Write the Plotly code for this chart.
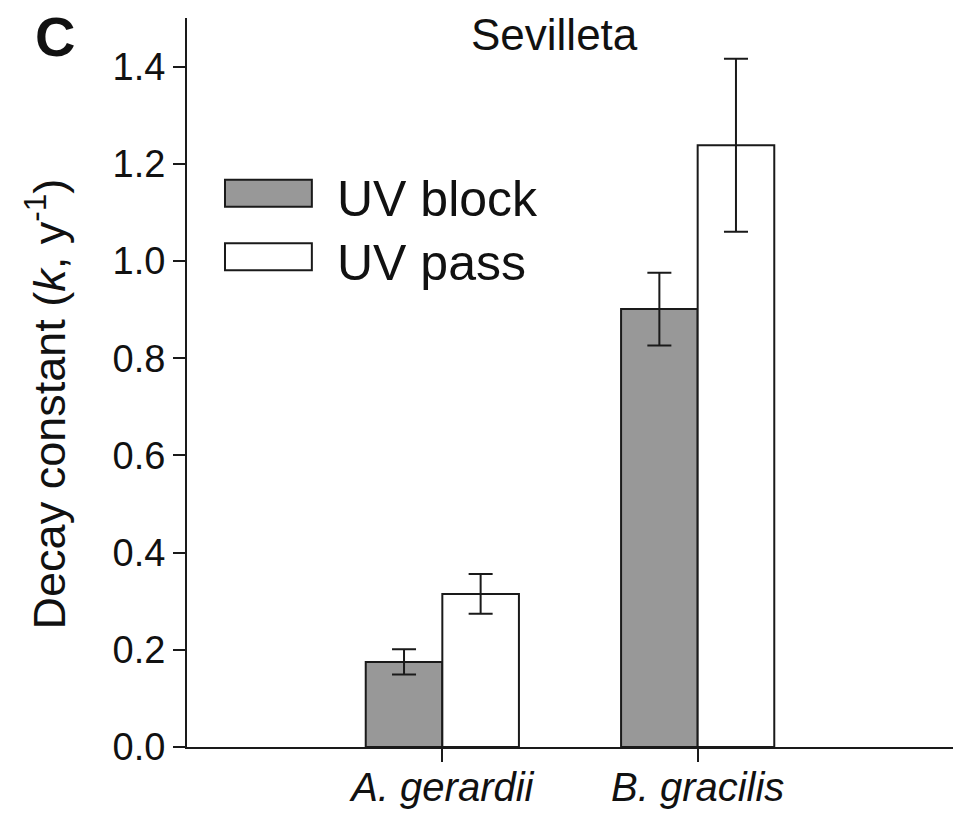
import plotly.graph_objects as go

# data
species = ["A. gerardii", "B. gracilis"]
uv_block = [0.175, 0.901]
uv_block_err = [0.026, 0.075]
uv_pass = [0.315, 1.238]
uv_pass_err = [0.041, 0.178]
y_ticks = [0.0, 0.2, 0.4, 0.6, 0.8, 1.0, 1.2, 1.4]

FONT = "Liberation Sans, Arial, Helvetica, sans-serif"
GRAY = "#989898"

fig = go.Figure()
fig.add_trace(
    go.Bar(
        x=species,
        y=uv_block,
        name="UV block",
        marker=dict(color=GRAY, line=dict(color="#1a1a1a", width=2)),
        error_y=dict(type="data", array=uv_block_err, color="#1a1a1a", thickness=2, width=12),
    )
)
fig.add_trace(
    go.Bar(
        x=species,
        y=uv_pass,
        name="UV pass",
        marker=dict(color="white", line=dict(color="#1a1a1a", width=2)),
        error_y=dict(type="data", array=uv_pass_err, color="#1a1a1a", thickness=2, width=12),
    )
)

fig.update_xaxes(
    range=[-1, 2],
    automargin=False,
    showline=True,
    linecolor="#1a1a1a",
    linewidth=2,
    ticks="outside",
    ticklen=13,
    tickwidth=2,
    tickcolor="#1a1a1a",
    ticklabelstandoff=-9,
    tickfont=dict(family=FONT, size=40, color="#111111", style="italic"),
    showgrid=False,
    zeroline=False,
)
fig.update_yaxes(
    range=[0, 1.5],
    automargin=False,
    tickvals=y_ticks,
    tickformat=".1f",
    showline=True,
    linecolor="#1a1a1a",
    linewidth=2,
    ticks="outside",
    ticklen=12,
    tickwidth=2,
    tickcolor="#1a1a1a",
    tickfont=dict(family=FONT, size=38, color="#111111"),
    showgrid=False,
    zeroline=False,
)

# hand-drawn legend, sized like the original
legend_items = [("UV block", GRAY, 0.778, 0.741), ("UV pass", "white", 0.691, 0.654)]
for label, colour, y_top, y_bot in legend_items:
    fig.add_shape(
        type="rect", xref="paper", yref="paper",
        x0=0.0496, x1=0.163, y0=y_bot, y1=y_top,
        fillcolor=colour, line=dict(color="#1a1a1a", width=2),
    )
    fig.add_annotation(
        text=label, xref="paper", yref="paper",
        x=0.193, y=(y_top + y_bot) / 2 - 0.008, xanchor="left", yanchor="middle",
        showarrow=False, font=dict(family=FONT, size=50, color="#111111"),
    )

# x axis line sticks out left of the y axis
fig.add_shape(
    type="line", xref="paper", yref="paper",
    x0=-0.016, x1=0, y0=0, y1=0, line=dict(color="#1a1a1a", width=2),
)

fig.add_annotation(
    text="Sevilleta", xref="paper", yref="paper", x=0.48, y=0.977,
    xanchor="center", yanchor="middle", showarrow=False,
    font=dict(family=FONT, size=44, color="#111111"),
)
fig.add_annotation(
    text="<b>C</b>", xref="paper", yref="paper", x=-0.172, y=0.975,
    xanchor="center", yanchor="middle", showarrow=False,
    font=dict(family=FONT, size=56, color="#111111"),
)
fig.add_annotation(
    text="Decay constant (<i>k</i>, y<sup>-1</sup>)", xref="paper", yref="paper",
    x=-0.184, y=0.47, xanchor="center", yanchor="middle", textangle=-90,
    showarrow=False, font=dict(family=FONT, size=45, color="#111111"),
)

# the page body adds an 8px margin, so the figure is 8px smaller on each side
fig.update_layout(
    width=953,
    height=807,
    margin=dict(l=179, r=8, t=10, b=68),
    barmode="group",
    bargap=0.4,
    bargroupgap=0,
    showlegend=False,
    plot_bgcolor="white",
    paper_bgcolor="white",
)

fig.write_html("out.html")
